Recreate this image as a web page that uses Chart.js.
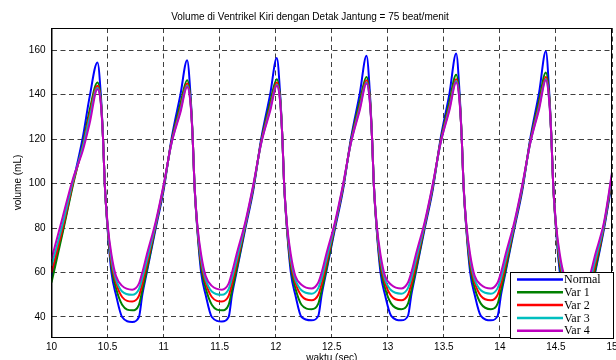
<!DOCTYPE html>
<html>
<head>
<meta charset="utf-8">
<script src="https://cdn.jsdelivr.net/npm/chart.js@4.4.1/dist/chart.umd.min.js"></script>
<style>
    html, body { margin: 0; padding: 0; background: #fff; overflow: hidden; }
    #wrap { width: 616px; height: 370px; }
</style>
</head>
<body>
<div id="wrap"><canvas id="volume-chart" width="616" height="370"></canvas></div>
<script>
// waktu (sec)
const waktu = [
    10.00, 10.10, 10.19, 10.28, 10.34,
    10.41, 10.44, 10.46, 10.475, 10.50, 10.535, 10.575, 10.63, 10.72, 10.78, 10.81, 10.85, 10.93, 11.00, 11.07, 11.15,
    11.21, 11.24, 11.26, 11.275, 11.30, 11.335, 11.375, 11.43, 11.52, 11.58, 11.61, 11.65, 11.73, 11.80, 11.87, 11.95,
    12.01, 12.04, 12.06, 12.075, 12.10, 12.135, 12.175, 12.23, 12.32, 12.38, 12.41, 12.45, 12.53, 12.60, 12.67, 12.75,
    12.81, 12.84, 12.86, 12.875, 12.90, 12.935, 12.975, 13.03, 13.12, 13.18, 13.21, 13.25, 13.33, 13.40, 13.47, 13.55,
    13.61, 13.64, 13.66, 13.675, 13.70, 13.735, 13.775, 13.83, 13.92, 13.98, 14.01, 14.05, 14.13, 14.20, 14.27, 14.35,
    14.41, 14.44, 14.46, 14.475, 14.50, 14.535, 14.575, 14.63, 14.72, 14.78, 14.81, 14.85, 14.93, 15.00
];

// volume (mL) per kurva
const normal = [
    58, 79, 100, 121, 139,
    154.5, 140, 120, 100, 80, 60, 50, 40, 37.8, 40, 50, 60, 80, 97, 120, 140,
    155.5, 140, 120, 100, 80, 60, 50, 40, 38, 40, 50, 60, 80, 97, 120, 140,
    156.5, 140, 120, 100, 80, 60, 50, 40, 38.5, 40.5, 50, 60, 80, 97, 120, 140.5,
    157.5, 141, 120, 100, 80, 60, 50, 40.5, 38.5, 40.5, 50, 60, 80, 97, 120, 140.5,
    158.5, 141, 120, 100, 80, 60, 50, 40.5, 38.5, 40.5, 50, 60, 80, 97, 120, 141,
    159.5, 141, 120, 100, 80, 60, 50, 40.5, 38.5, 40.5, 50, 60, 80, 101
];
const var1 = [
    55.5, 78, 99, 118, 133,
    145.5, 138, 120, 100, 80.5, 62.5, 53, 45.5, 43, 45.5, 52, 61, 81, 98, 119, 136,
    146.5, 138, 120, 100, 80.5, 62.5, 53, 45.5, 43, 45.5, 52, 61, 81, 98, 119, 136.5,
    147, 138.5, 120, 100, 80.5, 62.5, 53, 45.5, 43.5, 46, 52, 61, 81, 98, 119, 137,
    148, 139, 120, 100, 80.5, 62.5, 53, 46, 43.5, 46, 52, 61, 81, 98, 119, 137,
    149, 139, 120, 100, 80.5, 62.5, 53, 46, 43.5, 46, 52, 61, 81, 98, 119, 137.5,
    150, 139.5, 120, 100, 80.5, 62.5, 53, 46, 43.5, 46, 52, 61, 81, 102
];
const var2 = [
    60, 80, 100, 117, 131,
    144, 137, 120, 100, 81, 64.5, 55.5, 49, 47, 49.5, 55, 63.5, 81.5, 98.5, 118.5, 134,
    145, 137, 120, 100, 81, 64.5, 55.5, 49, 47, 49.5, 55, 63.5, 81.5, 98.5, 118.5, 134.5,
    145.5, 137.5, 120, 100, 81, 64.5, 55.5, 49.5, 47.5, 50, 55, 63.5, 81.5, 98.5, 118.5, 135,
    146.5, 138, 120, 100, 81, 64.5, 55.5, 49.5, 47.5, 50, 55, 63.5, 81.5, 98.5, 118.5, 135,
    147, 138, 120, 100, 81, 64.5, 55.5, 49.5, 47.5, 50, 55, 63.5, 81.5, 98.5, 118.5, 135.5,
    148, 138.5, 120, 100, 81, 64.5, 55.5, 49.5, 47.5, 50, 55, 63.5, 81.5, 103
];
const var3 = [
    63, 82, 101, 116.5, 129.5,
    143, 136.5, 120, 100, 81.5, 66, 57, 51.5, 50, 52.5, 57.5, 65.5, 82, 99, 118, 133,
    144, 136.5, 120, 100, 81.5, 66, 57, 51.5, 50, 52.5, 57.5, 65.5, 82, 99, 118, 133.5,
    144.5, 137, 120, 100, 81.5, 66, 57, 52, 50.5, 53, 57.5, 65.5, 82, 99, 118, 134,
    145.5, 137, 120, 100, 81.5, 66, 57, 52, 50.5, 53, 57.5, 65.5, 82, 99, 118, 134,
    146, 137.5, 120, 100, 81.5, 66, 57, 52, 50.5, 53, 57.5, 65.5, 82, 99, 118, 134.5,
    147, 137.5, 120, 100, 81.5, 66, 57, 52, 50.5, 53, 57.5, 65.5, 82, 104
];
const var4 = [
    66, 85, 102, 115, 127,
    142.5, 136, 120, 100, 82, 68, 58.5, 54, 52.3, 55, 60, 68, 83, 99.5, 118, 132,
    143.5, 136, 120, 100, 82, 68, 58.5, 54, 52.3, 55, 60, 68, 83, 99.5, 118, 132.5,
    144, 136.5, 120, 100, 82, 68, 58.5, 54.5, 52.8, 55.5, 60, 68, 83, 99.5, 118, 133,
    145, 136.5, 120, 100, 82, 68, 58.5, 54.5, 52.8, 55.5, 60, 68, 83, 99.5, 118, 133,
    145.5, 137, 120, 100, 82, 68, 58.5, 54.5, 52.8, 55.5, 60, 68, 83, 99.5, 118, 133.5,
    146.5, 137, 120, 100, 82, 68, 58.5, 54.5, 52.8, 55.5, 60, 68, 83, 105
];

const seriesLabels = ['Normal', 'Var 1', 'Var 2', 'Var 3', 'Var 4'];
const seriesColors = ['#0000FF', '#008000', '#FF0000', '#00BFBF', '#BF00BF'];
const xTicks = [10, 10.5, 11, 11.5, 12, 12.5, 13, 13.5, 14, 14.5, 15];
const yTicks = [40, 60, 80, 100, 120, 140, 160];

const allSeries = [normal, var1, var2, var3, var4];

// Var 4 digambar paling atas, Normal paling bawah
const datasets = allSeries.map((vals, i) => ({
    label: seriesLabels[i],
    data: waktu.map((t, j) => ({ x: t, y: vals[j] })),
    borderColor: seriesColors[i],
    backgroundColor: seriesColors[i],
    borderWidth: 2,
    pointRadius: 0,
    cubicInterpolationMode: 'monotone',
    fill: false,
    order: allSeries.length - i
}));

const gridDash = [5, 3.5];
const tickFont = { family: '"Liberation Sans", Arial, sans-serif', size: 10 };

// kotak plot (gaya matlab)
const boxPlugin = {
    id: 'plotBox',
    afterDraw(chart) {
        const { ctx, chartArea: a } = chart;
        ctx.save();
        ctx.setLineDash([]);
        ctx.strokeStyle = '#000';
        ctx.lineWidth = 1;
        ctx.strokeRect(a.left + 0.5, a.top + 0.5, a.right - a.left - 1, a.bottom - a.top);
        ctx.restore();
    }
};

// legenda di pojok kanan bawah
const legendPlugin = {
    id: 'boxLegend',
    afterDraw(chart) {
        const ctx = chart.ctx;
        const x0 = 510.5, y0 = 272.5, w = 103, h = 66;
        ctx.save();
        ctx.setLineDash([]);
        ctx.fillStyle = '#fff';
        ctx.fillRect(x0, y0, w, h);
        ctx.strokeStyle = '#000';
        ctx.lineWidth = 1;
        ctx.strokeRect(x0, y0, w, h);
        ctx.font = '12px "Liberation Serif", "Times New Roman", serif';
        ctx.textBaseline = 'middle';
        chart.data.datasets.forEach((ds, i) => {
            const yy = y0 + 7 + i * 12.8;
            ctx.strokeStyle = ds.borderColor;
            ctx.lineWidth = 2.5;
            ctx.beginPath();
            ctx.moveTo(517, yy);
            ctx.lineTo(563, yy);
            ctx.stroke();
            ctx.fillStyle = '#000';
            ctx.fillText(ds.label, 564, yy + 0.5);
        });
        ctx.restore();
    }
};

const ctx = document.getElementById('volume-chart').getContext('2d');
const volumeChart = new Chart(ctx, {
    type: 'line',
    data: { datasets: datasets },
    options: {
        responsive: false,
        animation: false,
        layout: { padding: { left: 8, right: 4, top: 0, bottom: 0 } },
        scales: {
            x: {
                type: 'linear',
                min: 10,
                max: 15,
                afterBuildTicks: (scale) => { scale.ticks = xTicks.map(v => ({ value: v })); },
                afterFit: (scale) => { scale.height = 33; scale.paddingLeft = 0; scale.paddingRight = 0; },
                grid: { color: '#404040', lineWidth: 1, drawTicks: false },
                border: { display: true, color: '#000', dash: gridDash },
                ticks: {
                    color: '#000',
                    padding: 4,
                    maxRotation: 0,
                    font: tickFont,
                    callback: (v) => String(v)
                },
                title: {
                    display: true,
                    text: 'waktu (sec)',
                    color: '#000',
                    font: tickFont,
                    padding: { top: 2, bottom: 6 }
                }
            },
            y: {
                min: 31,
                max: 170,
                afterBuildTicks: (scale) => { scale.ticks = yTicks.map(v => ({ value: v })); },
                afterFit: (scale) => { scale.width = 43.5; },
                grid: { color: '#404040', lineWidth: 1, drawTicks: false },
                border: { display: true, color: '#000', dash: gridDash },
                ticks: {
                    color: '#000',
                    padding: 6,
                    font: tickFont
                },
                title: {
                    display: true,
                    text: 'volume (mL)',
                    color: '#000',
                    font: tickFont,
                    padding: { top: 4, bottom: 0 }
                }
            }
        },
        plugins: {
            legend: { display: false },
            tooltip: { enabled: false },
            title: {
                display: true,
                text: 'Volume di Ventrikel Kiri dengan Detak Jantung = 75 beat/menit',
                color: '#000',
                font: { family: '"Liberation Sans", Arial, sans-serif', size: 10, weight: 'normal' },
                padding: { top: 11, bottom: 5 }
            }
        }
    },
    plugins: [boxPlugin, legendPlugin]
});
</script>
</body>
</html>
